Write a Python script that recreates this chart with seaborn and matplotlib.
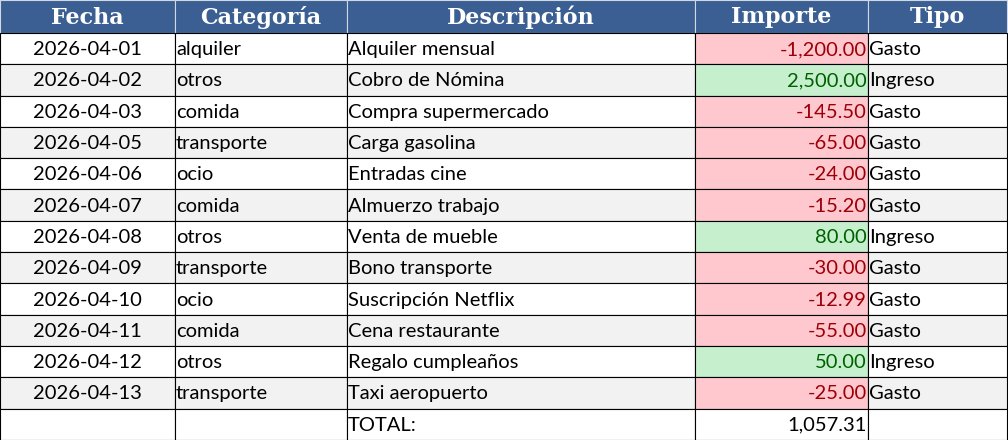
import matplotlib
matplotlib.use("Agg")
import matplotlib.pyplot as plt
import seaborn as sns
from matplotlib.patches import Rectangle

sns.set_theme(style="white")
plt.rcParams['font.family'] = ['Lato', 'DejaVu Sans']

headers = ["Fecha", "Categoría", "Descripción", "Importe", "Tipo"]
fechas = ["2026-04-01", "2026-04-02", "2026-04-03", "2026-04-05", "2026-04-06", "2026-04-07",
          "2026-04-08", "2026-04-09", "2026-04-10", "2026-04-11", "2026-04-12", "2026-04-13"]
categorias = ["alquiler", "otros", "comida", "transporte", "ocio", "comida",
              "otros", "transporte", "ocio", "comida", "otros", "transporte"]
descripciones = ["Alquiler mensual", "Cobro de Nómina", "Compra supermercado", "Carga gasolina",
                 "Entradas cine", "Almuerzo trabajo", "Venta de mueble", "Bono transporte",
                 "Suscripción Netflix", "Cena restaurante", "Regalo cumpleaños", "Taxi aeropuerto"]
importes = [-1200.00, 2500.00, -145.50, -65.00, -24.00, -15.20, 80.00, -30.00, -12.99, -55.00, 50.00, -25.00]
tipos = ["Gasto", "Ingreso", "Gasto", "Gasto", "Gasto", "Gasto", "Ingreso", "Gasto", "Gasto", "Gasto", "Ingreso", "Gasto"]
total_label = "TOTAL:"
total_value = 1057.31

col_edges = [0, 175, 347, 695, 868, 1007]
header_h = 33
row_h = 31.3

fig = plt.figure(figsize=(10.08, 4.4), dpi=100)
ax = fig.add_axes([0, 0, 1, 1])
ax.set_xlim(0, 1008)
ax.set_ylim(440, 0)
ax.axis("off")

for c, h in enumerate(headers):
    x0, x1 = col_edges[c], col_edges[c + 1]
    ax.add_patch(Rectangle((x0, 0), x1 - x0, header_h, facecolor="#3b5f92", edgecolor="#d0d8e4", lw=0.8))
    ax.text((x0 + x1) / 2, header_h / 2 + 1, h, ha="center", va="center", color="white",
            fontsize=16, fontweight="bold", family=["DejaVu Serif"])

def cell(c, r, text, ha, fill, color="black"):
    x0, x1 = col_edges[c], col_edges[c + 1]
    y0 = header_h + r * row_h
    ax.add_patch(Rectangle((x0, y0), x1 - x0, row_h, facecolor=fill, edgecolor="black", lw=0.8))
    if ha == "center":
        x = (x0 + x1) / 2
    elif ha == "left":
        x = x0 + 1
    else:
        x = x1 - 1
    ax.text(x, y0 + row_h / 2 + 1, text, ha=ha, va="center", color=color, fontsize=14.5)

for r in range(len(fechas)):
    bg = "#f2f2f2" if r % 2 == 1 else "white"
    cell(0, r, fechas[r], "center", bg)
    cell(1, r, categorias[r], "left", bg)
    cell(2, r, descripciones[r], "left", bg)
    v = importes[r]
    if v < 0:
        cell(3, r, f"{v:,.2f}", "right", "#ffc7ce", "#9c0006")
    else:
        cell(3, r, f"{v:,.2f}", "right", "#c6efce", "#006100")
    cell(4, r, tipos[r], "left", bg)

r = len(fechas)
cell(0, r, "", "center", "white")
cell(1, r, "", "left", "white")
cell(2, r, total_label, "left", "white")
cell(3, r, f"{total_value:,.2f}", "right", "white")
cell(4, r, "", "left", "white")

fig.savefig("out.png", dpi=100)
